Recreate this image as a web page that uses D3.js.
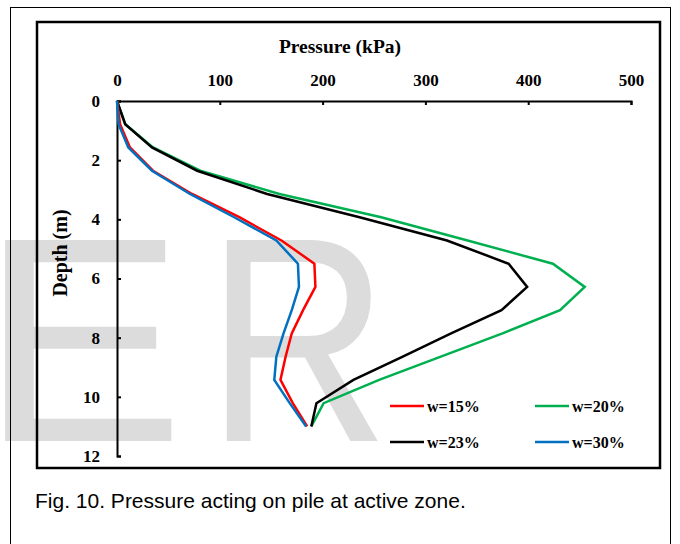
<!DOCTYPE html>
<html>
<head>
<meta charset="utf-8">
<script src="https://cdn.jsdelivr.net/npm/d3@7/dist/d3.min.js"></script>
<style>
  html, body { margin: 0; padding: 0; background: #fff; }
  svg { display: block; }
</style>
</head>
<body>
<svg id="chart" width="680" height="544"></svg>
<script>
// ---- data ----
const depths = [0, 0.786, 1.571, 2.357, 3.143, 3.929, 4.714, 5.5, 6.286, 7.071, 7.857, 8.643, 9.429, 10.214, 11];
const w15 = [0, 3, 12.6, 35, 73, 119, 160, 192, 193, 181, 170, 164, 159, 171, 185];
const w20 = [0, 8, 35, 81, 158, 257, 341, 424, 455, 431, 375, 315, 255, 201, 189];
const w23 = [0, 8, 34, 78, 146, 236, 321, 381, 399, 374, 325, 278, 230, 194, 189];
const w30 = [0, 1.5, 11, 34, 71, 114, 155, 176, 177, 170, 162, 155, 153, 168, 184];
const seriesNames = ["w=15%", "w=20%", "w=23%", "w=30%"];
const seriesColors = ["#ff0000", "#00b050", "#000000", "#0070c0"];
const xTicks = [0, 100, 200, 300, 400, 500];
const yTicks = [0, 2, 4, 6, 8, 10, 12];
const xTitle = "Pressure (kPa)";
const yTitle = "Depth (m)";
const caption = "Fig. 10. Pressure acting on pile at active zone.";

const svg = d3.select("#chart");

// watermark
svg.append("text").attr("transform", "translate(-20,441) scale(1.05,1)")
  .attr("font-family", "Liberation Sans, Arial, sans-serif")
  .attr("font-size", 292).attr("fill", "#dcdcdc").text("E");
svg.append("text").attr("transform", "translate(206,441) scale(0.87,1)")
  .attr("font-family", "Liberation Sans, Arial, sans-serif")
  .attr("font-size", 292).attr("fill", "#dcdcdc").text("R");

// outer frame
svg.append("rect").attr("x", 10.5).attr("y", 7.5).attr("width", 660).attr("height", 560)
  .attr("fill", "none").attr("stroke", "#000").attr("stroke-width", 1);
// inner chart frame
svg.append("rect").attr("x", 37).attr("y", 22).attr("width", 623).attr("height", 446)
  .attr("fill", "none").attr("stroke", "#000").attr("stroke-width", 2.5);

const x = d3.scaleLinear().domain([0, 500]).range([117, 631]);
const y = d3.scaleLinear().domain([0, 12]).range([101, 456]);

const serif = "Liberation Serif, Times New Roman, serif";

const xAxis = svg.append("g").attr("transform", `translate(0,${y(0)})`)
  .call(d3.axisTop(x).tickValues(xTicks).tickSizeInner(-4).tickSizeOuter(-4).tickPadding(15).tickFormat(d3.format("d")));
const yAxis = svg.append("g").attr("transform", `translate(${x(0)},0)`)
  .call(d3.axisLeft(y).tickValues(yTicks).tickSizeInner(-4).tickSizeOuter(-4).tickPadding(17).tickFormat(d3.format("d")));
[xAxis, yAxis].forEach(g => {
  g.select(".domain").attr("stroke-width", 2);
  g.selectAll(".tick line").attr("stroke-width", 2);
  g.selectAll(".tick text").attr("font-family", serif).attr("font-weight", "bold")
    .attr("font-size", 17).attr("fill", "#000");
});

svg.append("text").attr("x", 340).attr("y", 53).attr("text-anchor", "middle")
  .attr("font-family", serif).attr("font-weight", "bold").attr("font-size", 19.5).text(xTitle);
svg.append("text").attr("transform", "translate(67,253) rotate(-90)").attr("text-anchor", "middle")
  .attr("font-family", serif).attr("font-weight", "bold").attr("font-size", 20).text(yTitle);

const allSeries = [w15, w20, w23, w30];
const line = d3.line().x(d => x(d[0])).y(d => y(d[1]));
// draw order: green, black, red, blue
[1, 2, 0, 3].forEach(i => {
  svg.append("path").datum(allSeries[i].map((v, j) => [v, depths[j]]))
    .attr("d", line).attr("fill", "none").attr("stroke", seriesColors[i])
    .attr("stroke-width", 2.5).attr("stroke-linejoin", "miter");
});

// legend
const legPos = [[390, 406], [535, 406], [390, 442], [535, 442]];
seriesNames.forEach((n, i) => {
  const [lx, ly] = legPos[i];
  svg.append("line").attr("x1", lx).attr("x2", lx + 34).attr("y1", ly).attr("y2", ly)
    .attr("stroke", seriesColors[i]).attr("stroke-width", 2.5);
  svg.append("text").attr("x", lx + 37).attr("y", ly + 6)
    .attr("font-family", serif).attr("font-weight", "bold").attr("font-size", 16).text(n);
});

svg.append("text").attr("x", 35).attr("y", 508)
  .attr("font-family", "Liberation Sans, Arial, sans-serif").attr("font-size", 21).text(caption);
</script>
</body>
</html>
